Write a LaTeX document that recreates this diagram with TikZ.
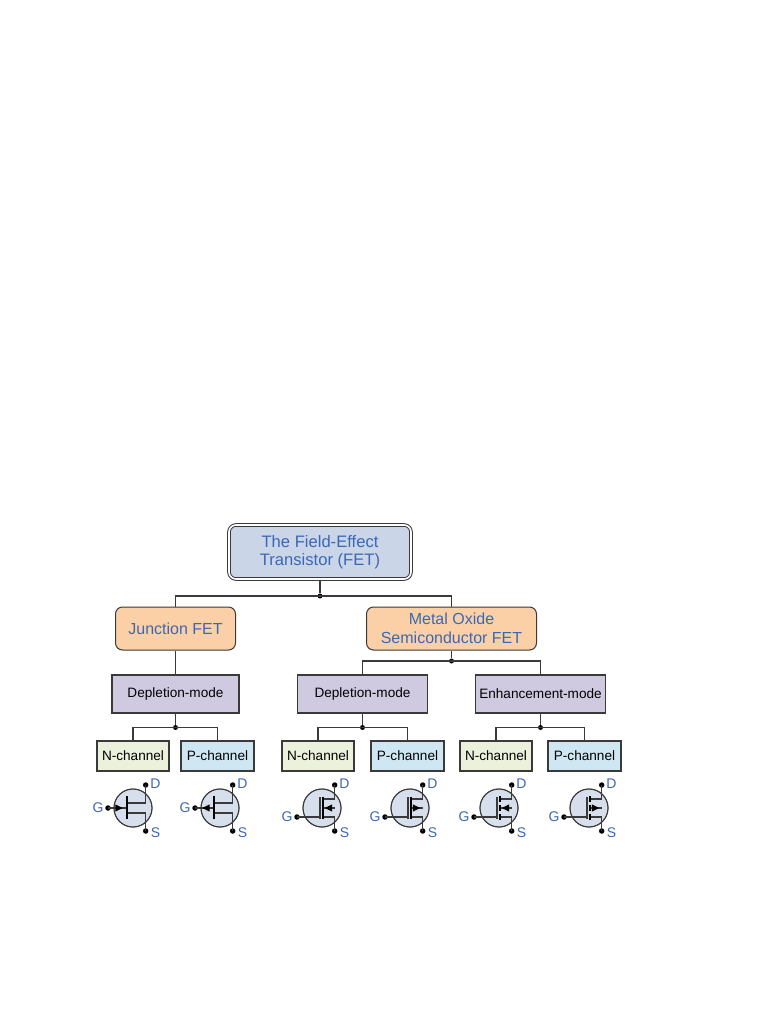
\documentclass[tikz,border=0pt]{standalone}
\usepackage{fontspec}
\setmainfont{Liberation Sans}
\definecolor{ln}{HTML}{3A3A3A}
\definecolor{blu}{HTML}{3B68B5}
\definecolor{topf}{HTML}{CAD6E8}
\definecolor{orf}{HTML}{FBD0A6}
\definecolor{puf}{HTML}{D0CAE0}
\definecolor{nf}{HTML}{ECF1DC}
\definecolor{pf}{HTML}{CFE7F2}
\definecolor{cf}{HTML}{D8DFEC}
\tikzset{
  topbox/.style={draw=ln,double=white,double distance=1.6pt,line width=1pt,fill=topf,rounded corners=7pt,minimum width=182pt,minimum height=54pt,inner sep=0pt,align=center,text=blu,font=\fontsize{16.6}{18.5}\selectfont},
  fetbox/.style={draw=ln,line width=1pt,fill=orf,rounded corners=7pt,minimum height=43pt,inner sep=0pt,align=center,text=blu,font=\fontsize{16}{18.5}\selectfont},
  modebox/.style={draw=ln,line width=1.1pt,fill=puf,minimum height=38pt,inner sep=0pt,font=\fontsize{13.6}{14}\selectfont},
  nbox/.style={draw=ln,line width=1.1pt,fill=nf,minimum width=72pt,minimum height=30pt,inner sep=0pt,text height=10pt,text depth=2pt,font=\fontsize{13.6}{14}\selectfont},
  pbox/.style={draw=ln,line width=1.1pt,fill=pf,minimum width=73pt,minimum height=30pt,inner sep=0pt,text height=10pt,text depth=2pt,font=\fontsize{13.6}{14}\selectfont},
  wire/.style={draw=ln,line width=1.1pt},
  jdot/.style={circle,fill=black,inner sep=0pt,minimum size=5pt},
  tdot/.style={circle,fill=black,inner sep=0pt,minimum size=5.5pt},
  tlab/.style={text=blu,inner sep=0pt,font=\fontsize{14}{15}\selectfont},
  body/.style={draw=ln,line width=.8pt,fill=cf},
  lead/.style={draw=ln,line width=1.1pt},
  bar/.style={draw=black,line width=1.5pt},
  ahead/.style={fill=black}
}
\newcommand{\tbase}[2]{%
  \filldraw[body] (#1,808) circle[radius=19];
  \draw[lead] (#1+12.7,785) -- (#1+12.7,831);
  \node[tdot] at (#1+12.7,785) {};
  \node[tdot] at (#1+12.7,831) {};
  \node[tdot] at (#1-25,808+#2) {};
  \node[tlab] at (#1+22.5,784) {D};
  \node[tlab] at (#1+22.5,833) {S};
  \node[tlab] at (#1-35,808+#2) {G};
}
\newcommand{\jfetsym}[2]{%
  \tbase{#1}{0}
  \filldraw[body,draw=none] (#1,808) circle[radius=18.6];
  \draw[lead] (#1,808) circle[radius=19];
  \draw[lead] (#1+12.7,785) -- (#1+12.7,803) -- (#1-6,803);
  \draw[lead] (#1+12.7,831) -- (#1+12.7,813) -- (#1-6,813);
  \draw[lead] (#1-25,808) -- (#1-6,808);
  \draw[bar] (#1-6,796) -- (#1-6,819);
  \fill[ahead] (#1-14+3.6*#2,808) -- (#1-14-3.6*#2,804.4) -- (#1-14-3.6*#2,811.6) -- cycle;
}
\newcommand{\mossym}[3]{%
  \tbase{#1}{9}
  \filldraw[body,draw=none] (#1,808) circle[radius=18.6];
  \draw[lead] (#1,808) circle[radius=19];
  \draw[lead] (#1+12.7,785) -- (#1+12.7,799) -- (#1+1,799);
  \draw[lead] (#1+12.7,831) -- (#1+12.7,817) -- (#1+1,817);
  \draw[lead] (#1+12.7,808) -- (#1+1,808);
  \draw[lead] (#1-25,817) -- (#1-2,817);
  \draw[lead] (#1-2,797) -- (#1-2,819);
  \ifnum#3=0
    \draw[bar] (#1+1.2,797) -- (#1+1.2,819);
  \else
    \draw[bar] (#1+1.2,796) -- (#1+1.2,802);
    \draw[bar] (#1+1.2,805) -- (#1+1.2,811);
    \draw[bar] (#1+1.2,814) -- (#1+1.2,820);
  \fi
  \fill[ahead] (#1+6.5+3.6*#2,808) -- (#1+6.5-3.6*#2,804.4) -- (#1+6.5-3.6*#2,811.6) -- cycle;
}
\begin{document}
\begin{tikzpicture}[x=1pt,y=-1pt]
\useasboundingbox[fill=white] (0,0) rectangle (768,1024);
\node[topbox] (fet) at (320,552) {The Field-Effect\\Transistor (FET)};
\node[fetbox,minimum width=120pt] (jfet) at (175.5,628.5) {Junction FET};
\node[fetbox,minimum width=170pt] (mos) at (451.5,628.5) {Metal Oxide\\Semiconductor FET};
\node[modebox,minimum width=127pt] (jd) at (175.5,694) {Depletion-mode};
\node[modebox,minimum width=130pt] (md) at (362.5,694) {Depletion-mode};
\node[modebox,minimum width=130pt] (me) at (540.5,694) {Enhancement-mode};
\node[nbox] (n1) at (133,756) {N-channel};
\node[pbox] (p1) at (217.5,756) {P-channel};
\node[nbox] (n2) at (318,756) {N-channel};
\node[pbox] (p2) at (407.5,756) {P-channel};
\node[nbox] (n3) at (496,756) {N-channel};
\node[pbox] (p3) at (584.5,756) {P-channel};
\node[jdot] (j0) at (320,596) {};
\node[jdot] (j1) at (451.5,661) {};
\node[jdot] (j2) at (175.5,727.5) {};
\node[jdot] (j3) at (362.5,727.5) {};
\node[jdot] (j4) at (540.5,727.5) {};
\draw[wire] (fet.south) -- (j0);
\draw[wire] (j0.center) -| (jfet.north);
\draw[wire] (j0.center) -| (mos.north);
\draw[wire] (jfet.south) -- (jd.north);
\draw[wire] (mos.south) -- (j1);
\draw[wire] (j1.center) -| (md.north);
\draw[wire] (j1.center) -| (me.north);
\draw[wire] (jd.south) -- (j2);
\draw[wire] (j2.center) -| (n1.north);
\draw[wire] (j2.center) -| (p1.north);
\draw[wire] (md.south) -- (j3);
\draw[wire] (j3.center) -| (n2.north);
\draw[wire] (j3.center) -| (p2.north);
\draw[wire] (me.south) -- (j4);
\draw[wire] (j4.center) -| (n3.north);
\draw[wire] (j4.center) -| (p3.north);
\jfetsym{133}{1}
\jfetsym{220}{-1}
\mossym{322}{-1}{0}
\mossym{410}{1}{0}
\mossym{499}{-1}{1}
\mossym{589}{1}{1}
\end{tikzpicture}
\end{document}
